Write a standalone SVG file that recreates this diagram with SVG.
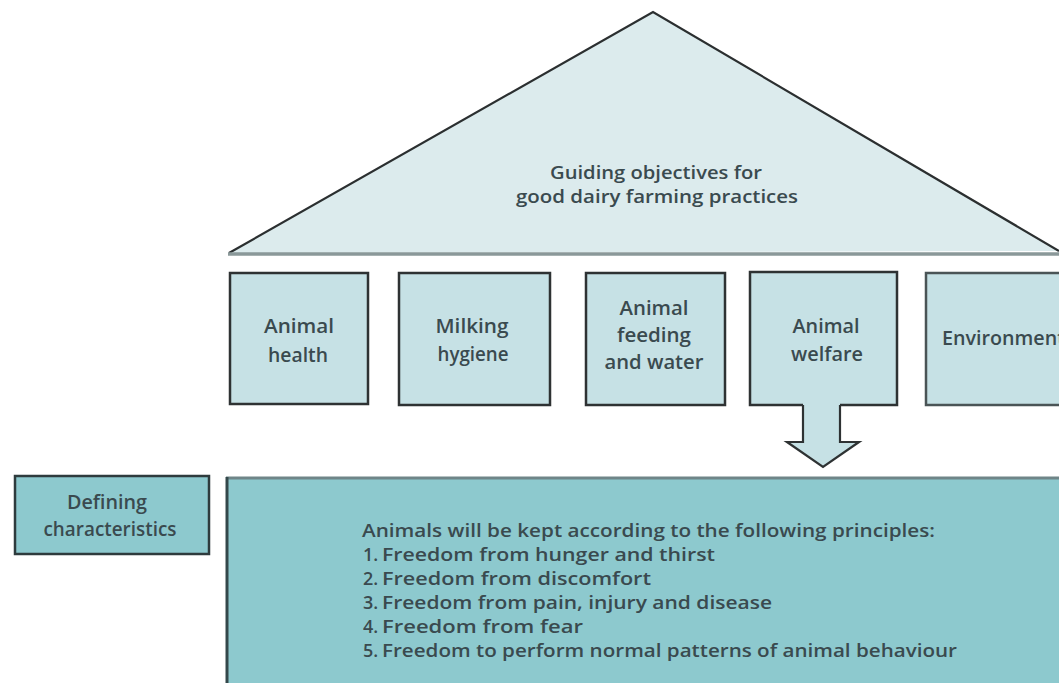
<svg xmlns="http://www.w3.org/2000/svg" width="1059" height="683" viewBox="0 0 1059 683">
<style>
text{font-family:"Open Sans","Liberation Sans",Arial,sans-serif;font-weight:600;fill:#3a4a4f;}
.lbl{font-size:20px;text-anchor:middle;}
.tri{font-size:18.5px;text-anchor:middle;}
.body{font-size:18px;}
.box{fill:#c6e1e5;stroke:#2e3233;stroke-width:2.5;}
.dark{fill:#8dc9ce;stroke:#2e3b3d;stroke-width:2.5;}
</style>
<rect width="1059" height="683" fill="#ffffff"/>

<g id="roof">
<polygon points="229,253 653,12 1059,251" fill="#dcebed"/>
<polyline points="229,253 653,12 1059,251" fill="none" stroke="#2b2f30" stroke-width="2.2"/>
<line x1="228" y1="254" x2="1059" y2="254" stroke="#8a9899" stroke-width="3.5"/>
<text class="tri" x="656" y="179" textLength="212" lengthAdjust="spacingAndGlyphs">Guiding objectives for</text>
<text class="tri" x="657" y="203" textLength="282" lengthAdjust="spacingAndGlyphs">good dairy farming practices</text>
</g>

<g id="animal-health">
<rect class="box" x="230" y="273" width="138" height="131"/>
<text class="lbl" x="299" y="333" textLength="70" lengthAdjust="spacingAndGlyphs">Animal</text>
<text class="lbl" x="298" y="362" textLength="60" lengthAdjust="spacingAndGlyphs">health</text>
</g>

<g id="milking-hygiene">
<rect class="box" x="399" y="273" width="151" height="132"/>
<text class="lbl" x="472" y="333" textLength="73" lengthAdjust="spacingAndGlyphs">Milking</text>
<text class="lbl" x="473" y="361" textLength="71" lengthAdjust="spacingAndGlyphs">hygiene</text>
</g>

<g id="animal-feeding">
<rect class="box" x="586" y="273" width="139" height="132"/>
<text class="lbl" x="654" y="315" textLength="69" lengthAdjust="spacingAndGlyphs">Animal</text>
<text class="lbl" x="654" y="342" textLength="74" lengthAdjust="spacingAndGlyphs">feeding</text>
<text class="lbl" x="654" y="369" textLength="99" lengthAdjust="spacingAndGlyphs">and water</text>
</g>

<g id="animal-welfare">
<rect class="box" x="750" y="272" width="147" height="133"/>
<text class="lbl" x="826" y="333" textLength="67" lengthAdjust="spacingAndGlyphs">Animal</text>
<text class="lbl" x="827" y="361" textLength="72" lengthAdjust="spacingAndGlyphs">welfare</text>
</g>

<g id="environment">
<rect class="box" x="926" y="273" width="150" height="132" style="stroke:#4a5456"/>
<text class="lbl" x="942" y="345" style="text-anchor:start" textLength="123" lengthAdjust="spacingAndGlyphs">Environment</text>
</g>

<g id="defining-characteristics">
<rect class="dark" x="15" y="476" width="194" height="78"/>
<text class="lbl" x="107" y="509" style="font-size:19px" textLength="80" lengthAdjust="spacingAndGlyphs">Defining</text>
<text class="lbl" x="110" y="536" style="font-size:19px" textLength="133" lengthAdjust="spacingAndGlyphs">characteristics</text>
</g>

<g id="principles">
<rect x="226" y="478" width="845" height="215" fill="#8dc9ce"/>
<line x1="226" y1="478" x2="1059" y2="478" stroke="#6f8588" stroke-width="3"/>
<line x1="227" y1="477" x2="227" y2="683" stroke="#34484b" stroke-width="3"/>
<text class="body" x="362" y="537" textLength="573" lengthAdjust="spacingAndGlyphs">Animals will be kept according to the following principles:</text>
<text class="body" y="561"><tspan x="363">1.</tspan><tspan x="382" textLength="333" lengthAdjust="spacingAndGlyphs">Freedom from hunger and thirst</tspan></text>
<text class="body" y="585"><tspan x="363">2.</tspan><tspan x="382" textLength="269" lengthAdjust="spacingAndGlyphs">Freedom from discomfort</tspan></text>
<text class="body" y="609"><tspan x="363">3.</tspan><tspan x="382" textLength="390" lengthAdjust="spacingAndGlyphs">Freedom from pain, injury and disease</tspan></text>
<text class="body" y="633"><tspan x="363">4.</tspan><tspan x="382" textLength="201" lengthAdjust="spacingAndGlyphs">Freedom from fear</tspan></text>
<text class="body" y="657"><tspan x="363">5.</tspan><tspan x="382" textLength="575" lengthAdjust="spacingAndGlyphs">Freedom to perform normal patterns of animal behaviour</tspan></text>
</g>

<g id="connectors">
<path d="M803,402 V442 H787 L823,467 L859,442 H840 V402 Z" fill="#c6e1e5"/>
<path d="M803,405 V442 H787 L823,467 L859,442 H840 V405" fill="none" stroke="#2e3233" stroke-width="2.2" stroke-linejoin="miter"/>
</g>
</svg>
